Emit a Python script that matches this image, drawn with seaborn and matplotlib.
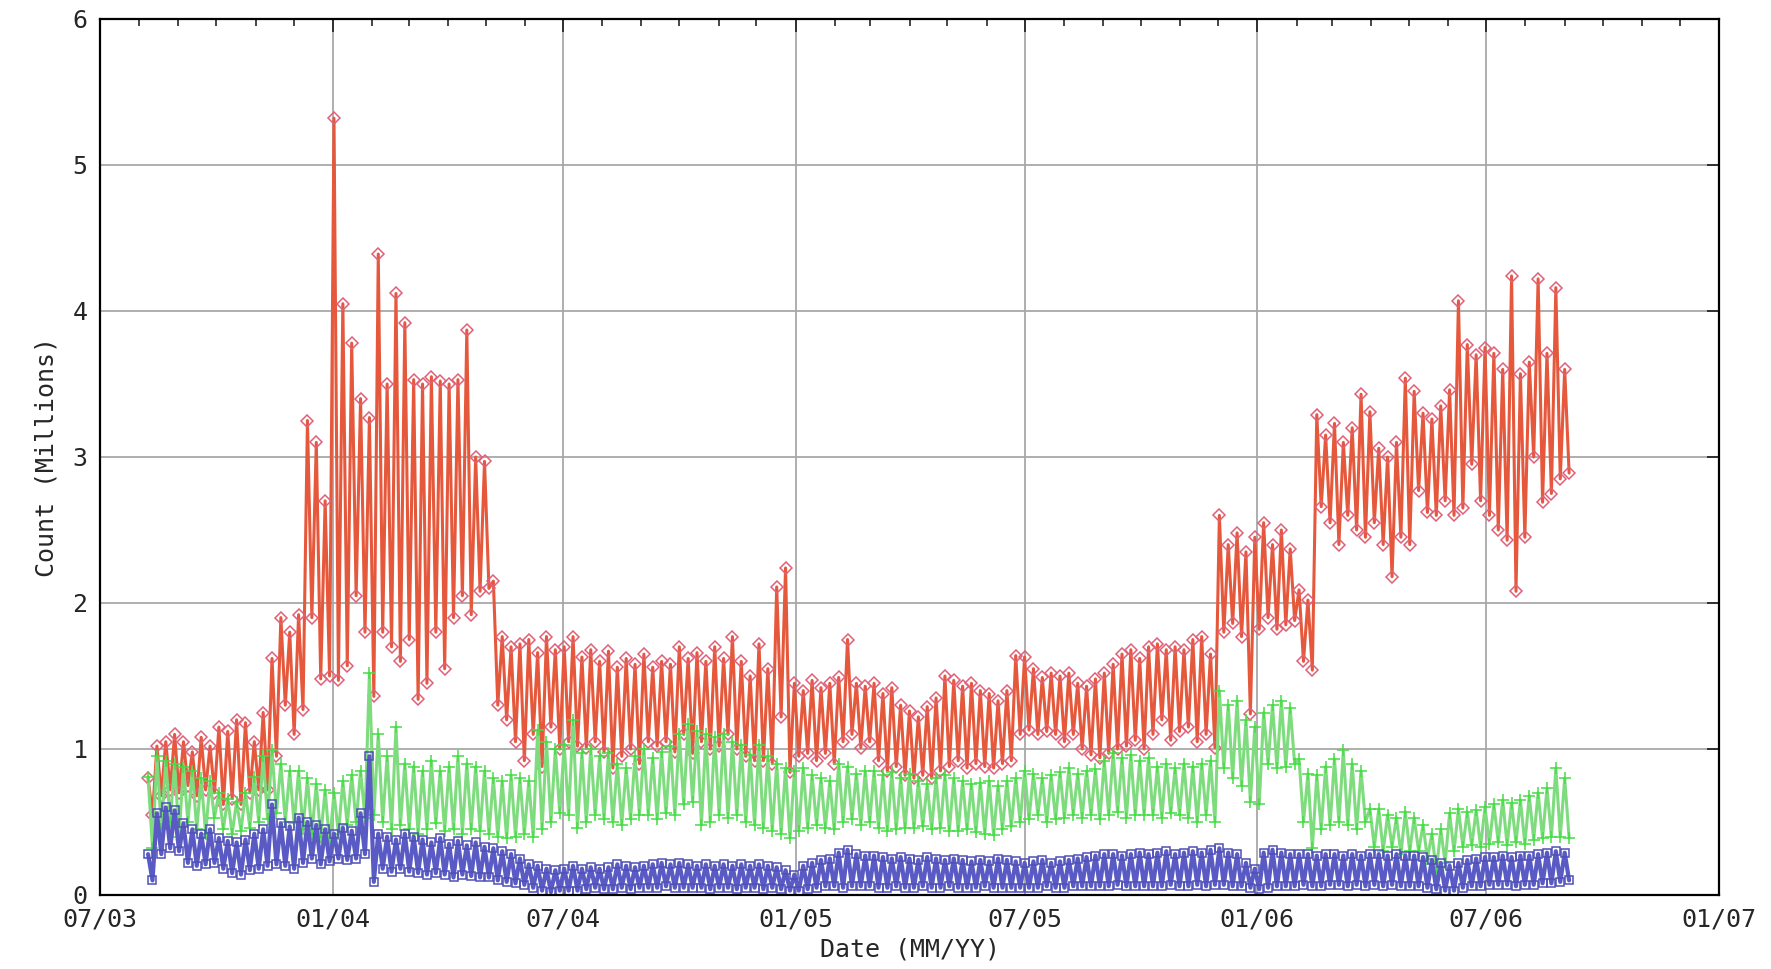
import pandas as pd
import matplotlib
matplotlib.use('Agg')
import matplotlib.pyplot as plt
import matplotlib.dates as mdates
import seaborn as sns

# weekly high / low readings, one week per value, starting 2003-08-08
red_hi = [
    0.80, 1.02, 1.05, 1.10,
    1.05, 0.98, 1.08, 1.02,
    1.15, 1.12, 1.20, 1.18, 1.05,
    1.25, 1.62, 1.90, 1.80,
    1.92, 3.25, 3.10, 2.70,
    5.32, 4.05, 3.78, 3.40, 3.27,
    4.39, 3.50, 4.12, 3.92,
    3.53, 3.50, 3.55, 3.52,
    3.50, 3.53, 3.87, 3.00, 2.97,
    2.15, 1.77, 1.70, 1.72,
    1.75, 1.66, 1.77, 1.68,
    1.70, 1.77, 1.63, 1.68, 1.60,
    1.67, 1.56, 1.62, 1.58,
    1.65, 1.56, 1.60, 1.58,
    1.70, 1.62, 1.66, 1.60, 1.70,
    1.62, 1.77, 1.60, 1.50,
    1.72, 1.55, 2.11, 2.24, 1.45,
    1.40, 1.47, 1.42, 1.45,
    1.49, 1.75, 1.45, 1.43,
    1.45, 1.38, 1.42, 1.30,
    1.26, 1.22, 1.29, 1.35, 1.50,
    1.47, 1.43, 1.45, 1.40,
    1.38, 1.33, 1.40, 1.64,
    1.63, 1.55, 1.49, 1.52, 1.50,
    1.52, 1.45, 1.43, 1.48,
    1.52, 1.58, 1.65, 1.68, 1.62,
    1.70, 1.72, 1.68, 1.70,
    1.68, 1.75, 1.77, 1.65,
    2.60, 2.40, 2.48, 2.35, 2.45,
    2.55, 2.40, 2.50, 2.37,
    2.09, 2.02, 3.29, 3.15,
    3.23, 3.10, 3.20, 3.43, 3.31,
    3.06, 3.00, 3.10, 3.54,
    3.45, 3.30, 3.26, 3.35,
    3.46, 4.07, 3.77, 3.70, 3.75,
    3.71, 3.60, 4.24, 3.57,
    3.65, 4.22, 3.71, 4.16,
    3.60,
]
red_lo = [
    0.55, 0.68, 0.72, 0.70,
    0.75, 0.68, 0.72, 0.70,
    0.62, 0.66, 0.62, 0.70, 0.72,
    0.72, 0.95, 1.30, 1.10,
    1.27, 1.90, 1.48, 1.50,
    1.47, 1.57, 2.05, 1.80, 1.36,
    1.80, 1.70, 1.60, 1.75,
    1.34, 1.45, 1.80, 1.55,
    1.90, 2.05, 1.92, 2.08, 2.10,
    1.30, 1.20, 1.05, 0.92,
    1.10, 0.88, 1.15, 1.00,
    1.05, 1.02, 1.01, 1.05, 0.98,
    0.87, 0.95, 1.00, 0.90,
    1.05, 1.02, 1.05, 0.98,
    1.10, 0.97, 1.05, 1.00, 1.02,
    1.10, 1.00, 0.95, 0.92,
    0.92, 0.90, 1.22, 0.84, 0.95,
    0.97, 0.92, 0.97, 0.90,
    1.05, 1.10, 1.01, 1.05,
    0.92, 0.85, 0.88, 0.82,
    0.80, 0.82, 0.80, 0.85, 0.88,
    0.92, 0.87, 0.90, 0.88,
    0.87, 0.90, 0.92, 1.10,
    1.13, 1.10, 1.12, 1.10, 1.05,
    1.10, 1.00, 0.96, 0.94,
    0.97, 1.00, 1.02, 1.06, 1.00,
    1.10, 1.20, 1.06, 1.12,
    1.15, 1.05, 1.10, 1.01,
    1.80, 1.86, 1.77, 1.24, 1.82,
    1.90, 1.82, 1.85, 1.88,
    1.60, 1.54, 2.66, 2.55,
    2.40, 2.60, 2.50, 2.45, 2.55,
    2.40, 2.18, 2.45, 2.40,
    2.77, 2.62, 2.60, 2.70,
    2.60, 2.65, 2.95, 2.70, 2.60,
    2.50, 2.43, 2.08, 2.45,
    3.00, 2.69, 2.75, 2.85,
    2.89,
]
green_hi = [
    0.81, 0.95, 0.92, 0.90,
    0.88, 0.85, 0.80, 0.78,
    0.70, 0.66, 0.64, 0.70, 0.81,
    0.95, 0.99, 0.90, 0.85,
    0.85, 0.80, 0.76, 0.72,
    0.70, 0.78, 0.82, 0.85, 1.52,
    1.10, 0.95, 1.15, 0.90,
    0.88, 0.85, 0.92, 0.85,
    0.88, 0.95, 0.90, 0.88, 0.85,
    0.80, 0.78, 0.82, 0.80,
    0.78, 1.13, 1.05, 1.00,
    1.03, 1.20, 0.97, 1.00, 0.95,
    0.97, 0.90, 0.87, 0.95,
    1.00, 0.94, 0.98, 1.02,
    1.10, 1.17, 1.12, 1.10, 1.08,
    1.10, 1.05, 1.03, 0.96,
    1.03, 0.95, 0.90, 0.87, 0.85,
    0.87, 0.82, 0.80, 0.78,
    0.90, 0.88, 0.83, 0.85,
    0.85, 0.82, 0.84, 0.80,
    0.83, 0.78, 0.76, 0.80, 0.82,
    0.80, 0.78, 0.76, 0.77,
    0.78, 0.75, 0.78, 0.80,
    0.85, 0.83, 0.80, 0.82, 0.84,
    0.87, 0.83, 0.85, 0.86,
    0.92, 0.97, 0.94, 0.96, 0.92,
    0.94, 0.88, 0.90, 0.87,
    0.90, 0.88, 0.90, 0.92,
    1.40, 1.30, 1.33, 1.20, 1.15,
    1.25, 1.30, 1.33, 1.28,
    0.93, 0.83, 0.82, 0.88,
    0.93, 0.99, 0.90, 0.85, 0.59,
    0.59, 0.55, 0.53, 0.57,
    0.53, 0.48, 0.42, 0.45,
    0.56, 0.59, 0.57, 0.58, 0.60,
    0.62, 0.65, 0.63, 0.65,
    0.68, 0.70, 0.73, 0.87,
    0.80,
]
green_lo = [
    0.32, 0.45, 0.50, 0.40,
    0.50, 0.45, 0.42, 0.53,
    0.45, 0.42, 0.44, 0.46, 0.50,
    0.52, 0.56, 0.50, 0.49,
    0.45, 0.42, 0.40, 0.35,
    0.42, 0.48, 0.50, 0.53, 0.55,
    0.50, 0.45, 0.48, 0.45,
    0.42, 0.45, 0.49, 0.44,
    0.45, 0.42, 0.45, 0.44, 0.42,
    0.40, 0.39, 0.40, 0.42,
    0.40, 0.45, 0.50, 0.56,
    0.55, 0.46, 0.50, 0.55, 0.52,
    0.50, 0.48, 0.52, 0.55,
    0.55, 0.52, 0.56, 0.55,
    0.62, 0.64, 0.48, 0.50, 0.55,
    0.53, 0.55, 0.50, 0.48,
    0.46, 0.44, 0.42, 0.39, 0.44,
    0.46, 0.48, 0.46, 0.45,
    0.50, 0.52, 0.48, 0.50,
    0.46, 0.44, 0.45, 0.46,
    0.46, 0.47, 0.45, 0.46, 0.44,
    0.44, 0.45, 0.43, 0.42,
    0.41, 0.45, 0.47, 0.50,
    0.52, 0.55, 0.50, 0.52, 0.53,
    0.55, 0.53, 0.55, 0.52,
    0.55, 0.57, 0.53, 0.55, 0.55,
    0.55, 0.53, 0.56, 0.55,
    0.53, 0.50, 0.55, 0.50,
    0.87, 0.80, 0.75, 0.64, 0.62,
    0.90, 0.87, 0.88, 0.90,
    0.50, 0.32, 0.45, 0.48,
    0.50, 0.48, 0.45, 0.50, 0.33,
    0.30, 0.33, 0.28, 0.30,
    0.30, 0.25, 0.16, 0.22,
    0.30, 0.33, 0.34, 0.33, 0.35,
    0.36, 0.34, 0.36, 0.35,
    0.38, 0.39, 0.40, 0.40,
    0.39,
]
blue_hi = [
    0.28, 0.56, 0.60, 0.58,
    0.49, 0.45, 0.42, 0.45,
    0.39, 0.37, 0.36, 0.38, 0.42,
    0.45, 0.62, 0.49, 0.47,
    0.53, 0.50, 0.48, 0.45,
    0.42, 0.46, 0.44, 0.56, 0.95,
    0.42, 0.40, 0.38, 0.42,
    0.40, 0.38, 0.36, 0.39,
    0.35, 0.37, 0.34, 0.36, 0.33,
    0.32, 0.30, 0.28, 0.25,
    0.21, 0.20, 0.18, 0.17,
    0.18, 0.20, 0.18, 0.19, 0.18,
    0.19, 0.21, 0.20, 0.19,
    0.20, 0.21, 0.22, 0.21,
    0.22, 0.21, 0.20, 0.21, 0.20,
    0.21, 0.20, 0.21, 0.20,
    0.21, 0.20, 0.19, 0.17, 0.14,
    0.20, 0.22, 0.24, 0.25,
    0.29, 0.31, 0.28, 0.27,
    0.27, 0.26, 0.25, 0.26,
    0.25, 0.24, 0.26, 0.25, 0.24,
    0.25, 0.24, 0.23, 0.24,
    0.23, 0.25, 0.24, 0.23,
    0.22, 0.23, 0.24, 0.22, 0.23,
    0.24, 0.25, 0.26, 0.27,
    0.28, 0.28, 0.27, 0.28, 0.29,
    0.28, 0.29, 0.30, 0.28,
    0.29, 0.30, 0.29, 0.31,
    0.32, 0.29, 0.28, 0.22, 0.18,
    0.29, 0.31, 0.29, 0.28,
    0.28, 0.28, 0.27, 0.28,
    0.28, 0.27, 0.28, 0.27, 0.28,
    0.28, 0.27, 0.28, 0.27,
    0.27, 0.26, 0.24, 0.22,
    0.20, 0.22, 0.24, 0.25, 0.26,
    0.26, 0.27, 0.26, 0.27,
    0.27, 0.28, 0.29, 0.30,
    0.29,
]
blue_lo = [
    0.10, 0.28, 0.32, 0.30,
    0.22, 0.20, 0.21, 0.22,
    0.18, 0.15, 0.14, 0.17, 0.18,
    0.20, 0.21, 0.20, 0.18,
    0.22, 0.25, 0.21, 0.23,
    0.25, 0.24, 0.25, 0.28, 0.09,
    0.18, 0.16, 0.18, 0.16,
    0.15, 0.14, 0.15, 0.14,
    0.12, 0.14, 0.13, 0.12, 0.12,
    0.10, 0.09, 0.08, 0.07,
    0.05, 0.03, 0.02, 0.03,
    0.03, 0.03, 0.04, 0.05, 0.04,
    0.04, 0.05, 0.04, 0.05,
    0.05, 0.05, 0.06, 0.05,
    0.05, 0.05, 0.05, 0.04, 0.05,
    0.05, 0.04, 0.05, 0.05,
    0.04, 0.05, 0.04, 0.03, 0.03,
    0.04, 0.05, 0.06, 0.06,
    0.05, 0.06, 0.06, 0.06,
    0.05, 0.05, 0.06, 0.05,
    0.05, 0.06, 0.05, 0.05, 0.06,
    0.05, 0.05, 0.05, 0.06,
    0.05, 0.05, 0.05, 0.05,
    0.05, 0.05, 0.06, 0.05, 0.05,
    0.06, 0.06, 0.06, 0.06,
    0.06, 0.07, 0.06, 0.06, 0.06,
    0.06, 0.06, 0.07, 0.06,
    0.06, 0.07, 0.06, 0.07,
    0.07, 0.06, 0.06, 0.05, 0.04,
    0.05, 0.06, 0.06, 0.06,
    0.07, 0.06, 0.06, 0.07,
    0.07, 0.06, 0.07, 0.06, 0.07,
    0.06, 0.07, 0.06, 0.06,
    0.06, 0.05, 0.04, 0.03,
    0.03, 0.05, 0.06, 0.06, 0.07,
    0.07, 0.07, 0.06, 0.07,
    0.07, 0.08, 0.08, 0.09,
    0.10,
]

weeks = pd.date_range('2003-08-08', periods=len(red_hi), freq='7D')


def zigzag(hi, lo):
    # weekday high then weekend low, half a week apart
    a = pd.DataFrame({'date': weeks, 'value': hi})
    b = pd.DataFrame({'date': weeks + pd.Timedelta(hours=84), 'value': lo})
    return pd.concat([a, b]).sort_values('date').reset_index(drop=True)


sns.set_style('white')
plt.rcParams['font.family'] = ['DejaVu Sans Mono']

fig = plt.figure(figsize=(17.71, 9.69), dpi=100)
ax = fig.add_axes([100 / 1771, 74 / 969, 1619 / 1771, 876 / 969])
ax.set_axisbelow(True)
ax.grid(True, which='major', color='#a8a8a8', lw=1.3)

series = [
    (red_hi, red_lo, '#e5583c', '#e0607a', 'D', 6, 2.2),
    (green_hi, green_lo, '#7edc7e', '#44dd44', '+', 9, 2.2),
    (blue_hi, blue_lo, '#5a5ac4', '#4f4fb8', 's', 6, 3.0),
]
for hi, lo, lc, mc, mk, ms, lw in series:
    sns.lineplot(data=zigzag(hi, lo), x='date', y='value', ax=ax,
                 estimator=None, sort=False, color=lc, lw=lw,
                 marker=mk, markersize=ms, markerfacecolor='none',
                 markeredgecolor=mc, markeredgewidth=1.1)

ax.set_xlim(pd.Timestamp('2003-07-01'), pd.Timestamp('2007-01-01'))
ax.set_ylim(0, 6)
ax.xaxis.set_major_locator(mdates.MonthLocator(bymonth=[1, 7]))
ax.xaxis.set_major_formatter(mdates.DateFormatter('%m/%y'))
ax.xaxis.set_minor_locator(mdates.MonthLocator())
ax.yaxis.set_major_locator(plt.MultipleLocator(1))
ax.tick_params(which='major', direction='in', top=True, right=True,
               length=9, width=1.3, labelsize=18, pad=9)
ax.tick_params(which='minor', direction='in', top=True, right=True,
               length=5, width=1.2)
for s in ax.spines.values():
    s.set_color('black')
    s.set_linewidth(1.6)

ax.set_xlabel('Date (MM/YY)', fontsize=18, labelpad=4)
ax.set_ylabel('Count (Millions)', fontsize=18, labelpad=10)

fig.savefig('out.png', dpi=100, facecolor='white')
